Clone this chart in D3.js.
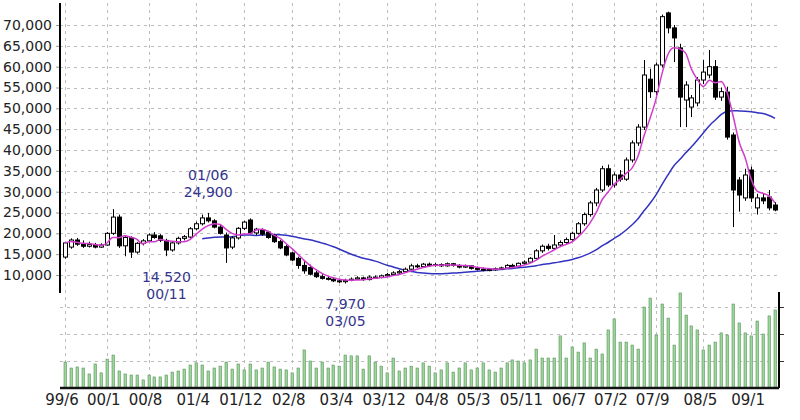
<!DOCTYPE html>
<html>
<head>
<meta charset="utf-8">
<script src="https://cdn.jsdelivr.net/npm/d3@7"></script>
<style>
  body { margin: 0; background: #fff; }
  svg { display: block; }
  text { font-family: "DejaVu Sans", sans-serif; }
</style>
</head>
<body>
<div id="chart"></div>
<script>
// monthly prices, 99/6 .. 09/5
var opens = [14300,16700,18400,17400,16900,17300,16700,17200,20000,23900,17000,19000,15500,17600,18200,19600,19400,18300,16000,17700,
  18800,19100,21100,22300,23700,23000,21500,19600,16700,18900,21200,23200,20100,20800,20300,19500,18000,16800,15300,14000,
  12300,11800,10500,9600,9200,9000,8600,8400,8700,9000,9300,8900,9500,9400,9800,10100,10500,10800,11400,12200,
  12000,12600,12300,12500,12200,12700,12300,11900,12200,11600,11400,11200,11300,11500,11700,12300,12100,12800,13100,14000,
  15800,16900,16400,17200,17800,18500,20000,22300,24500,27300,30400,35500,31600,34000,33000,37600,41700,45500,57000,54000,
  60400,72900,69300,64500,52000,50300,51300,56800,58000,60000,52700,53900,43600,32800,28500,35200,26100,28500,28700,26800];
var highs = [17900,18800,18900,18300,18000,17700,17600,20300,25800,24500,19500,19300,17900,18600,20000,20300,19800,18700,17900,19200,
  19600,21500,22800,24500,24900,23400,22000,20200,19300,21500,23000,23600,21300,21200,20600,19900,18400,17200,15600,14400,
  13300,12500,11000,10200,9700,9400,9000,9100,9400,9700,9600,9900,9900,10100,10500,10900,11200,11800,12700,12700,
  12900,13000,12900,12800,13000,12900,12600,12500,12400,12000,11800,11600,11800,12000,12600,12700,13000,13500,14300,16200,
  17300,17500,19600,18300,19000,20400,22700,25000,27800,30900,36200,36500,34600,35200,38200,42300,46200,61600,59500,61000,
  72500,73200,70000,65500,56500,53200,57500,61600,64000,61600,55000,55200,44200,33500,35500,36000,29500,29500,30400,27500];
var lows = [13900,16300,17000,16500,16600,16400,16500,17000,19600,16500,14500,14100,15100,17100,17900,18700,17900,14520,15600,17300,
  18300,18800,20700,21900,22600,21200,19700,12900,16200,18500,20800,19800,19600,19400,18700,17700,16200,14500,13300,11500,
  10300,9900,9300,8900,8700,8300,8100,7970,8500,8800,8600,8700,9100,9200,9600,9900,10200,10600,11200,11700,
  11800,12000,12000,11900,12000,12000,11600,11700,11300,11100,10900,10900,11000,11300,11500,11800,11900,12500,12900,13800,
  15300,15900,16100,16700,17300,18100,19700,21800,24000,26500,29900,31100,31000,32400,32600,37000,41000,44800,52500,53200,
  59800,68000,61100,45500,45500,47900,50500,55800,57200,52000,51800,42500,21500,25200,27800,27500,24500,27000,25500,25300];
var closes = [17700,18400,17400,16900,17300,16700,17200,20000,23900,17000,19000,15500,17600,18200,19600,19000,18300,16000,17700,18800,
  19200,21100,22300,23700,23000,21500,20000,16500,18900,21200,22700,20100,21000,19800,19000,18000,16500,14800,13600,12300,
  11000,10200,9600,9200,9000,8600,8400,8700,9000,9300,8900,9500,9400,9800,10100,10500,10800,11400,12200,12000,
  12600,12300,12500,12200,12700,12300,11900,12200,11600,11400,11200,11300,11500,11700,12300,12100,12800,13100,14000,15800,
  16900,16400,17200,17800,18500,20000,22300,24500,27300,30400,35500,31600,34000,33000,37600,41700,45500,58000,54000,60400,
  72000,69300,66900,52700,55600,52500,56800,58700,60000,52700,54000,43100,30400,29200,34000,28500,28500,27800,26100,25600];
// volume (thousand shares)
var volumes = [960,740,780,740,520,890,560,1070,1220,630,520,480,480,300,480,410,410,480,590,630,
  700,850,930,850,630,740,810,960,700,890,670,890,670,740,960,780,700,670,560,740,
  1410,1000,740,960,740,850,810,1220,1190,1190,700,1190,960,810,560,1110,630,740,810,740,
  930,810,560,670,930,590,740,930,670,740,930,670,590,740,930,1040,1000,930,1040,1440,
  1110,1110,1110,1930,1110,1520,1330,1670,1110,1440,1260,2150,2560,1700,1700,1590,1440,3000,3330,1960,
  3110,2590,1590,3520,2700,2300,2150,1410,1590,1700,2040,1960,3110,2410,2040,1930,2480,2000,2670,2890];

var tickLabels = ["99/6","00/1","00/8","01/4","01/12","02/8","03/4","03/12","04/8","05/3","05/11","06/7","07/2","07/9","08/5","09/1"];
var priceTicks = [10000,15000,20000,25000,30000,35000,40000,45000,50000,55000,60000,65000,70000];
var volumeTicks = [1000,2000,3000];

// annotated extremes: month index and which price
var extremes = [
  { i: 24, kind: "high" },
  { i: 17, kind: "low" },
  { i: 47, kind: "low" }
];

var svgWidth = 800;
var svgHeight = 420;

var svg = d3.select("#chart")
  .append("svg")
  .attr("width", svgWidth)
  .attr("height", svgHeight);

var months = d3.range(closes.length).map(function(i) { return new Date(1999, 5 + i, 1); });

function monthIndex(s) {
  var p = s.split("/").map(Number);
  var yr = p[0] > 50 ? 1900 + p[0] : 2000 + p[0];
  return (yr - 1999) * 12 + (p[1] - 6);
}

// scales
var x = d3.scaleLinear().domain([0, closes.length - 1]).range([65, 775]);
var y = d3.scaleLinear().domain([10000, 70000]).range([275, 25]);
var yVol = d3.scaleLinear().domain([0, 3000]).range([388, 307]);

var left = 60, right = 779;
var priceTop = 3, priceBottom = 293, volTop = 292, volBottom = 388;

function px(i) { return Math.round(x(i)) + 0.5; }

// grid
var grid = svg.append("g")
  .attr("stroke", "#bdbdbd")
  .attr("stroke-width", 1)
  .attr("stroke-dasharray", "3,4");

grid.selectAll(".hp").data(priceTicks).enter().append("line")
  .attr("x1", left).attr("x2", right)
  .attr("y1", function(d) { return Math.round(y(d)) + 0.5; })
  .attr("y2", function(d) { return Math.round(y(d)) + 0.5; });

grid.selectAll(".hv").data(volumeTicks).enter().append("line")
  .attr("x1", left).attr("x2", right)
  .attr("y1", function(d) { return Math.round(yVol(d)) + 0.5; })
  .attr("y2", function(d) { return Math.round(yVol(d)) + 0.5; });

grid.selectAll(".vx").data(tickLabels).enter().append("line")
  .attr("x1", function(d) { return px(monthIndex(d)); })
  .attr("x2", function(d) { return px(monthIndex(d)); })
  .attr("y1", priceTop).attr("y2", volBottom);

// volume bars
svg.append("g").selectAll("rect").data(volumes).enter().append("rect")
  .attr("x", function(d, i) { return Math.round(x(i)) - 1; })
  .attr("width", 2.5)
  .attr("y", function(d) { return yVol(d); })
  .attr("height", function(d) { return yVol(0) - yVol(d); })
  .attr("fill", "#9ad69a")
  .attr("stroke", "#5a935a")
  .attr("stroke-width", 0.6);

// moving averages
function sma(n, partial) {
  return closes.map(function(c, i) {
    if (i < n - 1 && !partial) return null;
    return d3.mean(closes.slice(Math.max(0, i - n + 1), i + 1));
  });
}
var maShort = sma(5, true);
var maLong = sma(24, false);

var line = d3.line()
  .defined(function(d) { return d != null; })
  .x(function(d, i) { return x(i); })
  .y(function(d) { return y(d); })
  .curve(d3.curveMonotoneX);

svg.append("path").datum(maLong)
  .attr("fill", "none")
  .attr("stroke", "#3232c0")
  .attr("stroke-width", 1.5)
  .attr("d", line);

// candles
var candles = svg.append("g").selectAll("g").data(closes).enter().append("g");

candles.append("line")
  .attr("x1", function(d, i) { return px(i); })
  .attr("x2", function(d, i) { return px(i); })
  .attr("y1", function(d, i) { return y(highs[i]); })
  .attr("y2", function(d, i) { return y(lows[i]); })
  .attr("stroke", "#000")
  .attr("stroke-width", 1);

candles.append("rect")
  .attr("x", function(d, i) { return Math.round(x(i)) - 1.5; })
  .attr("width", 4)
  .attr("y", function(d, i) { return y(Math.max(opens[i], d)); })
  .attr("height", function(d, i) { return Math.max(1, Math.abs(y(opens[i]) - y(d))); })
  .attr("fill", function(d, i) { return d >= opens[i] ? "#fff" : "#000"; })
  .attr("stroke", "#000")
  .attr("stroke-width", 1);

svg.append("path").datum(maShort)
  .attr("fill", "none")
  .attr("stroke", "#d23ccc")
  .attr("stroke-width", 1.5)
  .attr("d", line);

// axes
var leftAxis = d3.axisLeft(y)
  .tickValues(priceTicks)
  .tickFormat(d3.format(","))
  .tickSize(4)
  .tickPadding(4);

var gLeft = svg.append("g")
  .attr("transform", "translate(" + left + ",0)")
  .call(leftAxis);
gLeft.select(".domain").remove();
gLeft.selectAll("text").attr("font-size", 14).attr("fill", "#222").attr("font-family", "DejaVu Sans, sans-serif");
gLeft.selectAll(".tick line").attr("stroke", "#999");

svg.append("line")
  .attr("x1", left).attr("x2", left)
  .attr("y1", priceTop).attr("y2", priceBottom)
  .attr("stroke", "#000").attr("stroke-width", 2);

var rightAxis = d3.axisRight(yVol)
  .tickValues(volumeTicks)
  .tickFormat("")
  .tickSize(5);

var gRight = svg.append("g")
  .attr("transform", "translate(" + right + ",0)")
  .call(rightAxis);
gRight.select(".domain").remove();
gRight.selectAll(".tick line").attr("stroke", "#333");

svg.append("line")
  .attr("x1", right).attr("x2", right)
  .attr("y1", volTop).attr("y2", volBottom)
  .attr("stroke", "#000").attr("stroke-width", 2);

svg.append("line")
  .attr("x1", left).attr("x2", right)
  .attr("y1", volBottom).attr("y2", volBottom)
  .attr("stroke", "#111").attr("stroke-width", 2.5);

// month labels
svg.append("g").selectAll("text").data(tickLabels).enter().append("text")
  .attr("x", function(d) { return x(monthIndex(d)) - 3; })
  .attr("y", 405)
  .attr("text-anchor", "middle")
  .attr("font-size", 15)
  .attr("fill", "#222")
  .text(function(d) { return d; });

// high / low notes
var fmtDate = d3.timeFormat("%y/%m");
var fmtNum = d3.format(",");
var notes = svg.append("g")
  .attr("fill", "#34348c")
  .attr("font-size", 14)
  .attr("text-anchor", "middle");

extremes.forEach(function(e) {
  var v = e.kind === "high" ? highs[e.i] : lows[e.i];
  var cx = x(e.i);
  var top = e.kind === "high" ? [fmtDate(months[e.i]), fmtNum(v)] : [fmtNum(v), fmtDate(months[e.i])];
  var base = e.kind === "high" ? y(v) - 33 : y(v) + 26;
  notes.append("text").attr("x", cx).attr("y", base).text(top[0]);
  notes.append("text").attr("x", cx).attr("y", base + 17).text(top[1]);
});
</script>
</body>
</html>
